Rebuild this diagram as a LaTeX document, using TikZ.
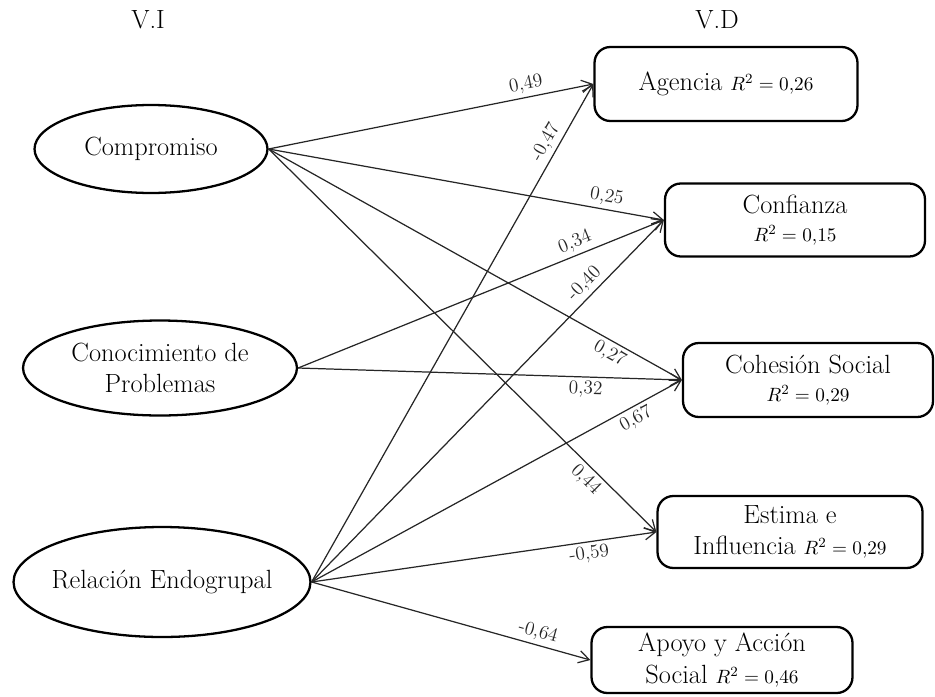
\documentclass[tikz,border=0pt]{standalone}
\usetikzlibrary{shapes.geometric,arrows.meta}
\newcommand\Rsq[1]{{\fontsize{11}{13}\selectfont$R^{2}=#1$}}
\begin{document}
\begin{tikzpicture}[x=0.02cm,y=-0.02cm,
  lat/.style={draw, ellipse, line width=1.3pt, inner sep=0pt, font=\fontsize{15}{18}\selectfont, align=center},
  dep/.style={draw, rounded corners=9pt, line width=1.3pt, inner sep=2pt, font=\fontsize{15}{18}\selectfont, align=center},
  pth/.style={-{Straight Barb[length=6pt,width=7pt]}, line width=0.7pt, black!85},
  coef/.style={font=\fontsize{11}{12}\selectfont, sloped, inner sep=2pt},
  head/.style={font=\fontsize{15}{18}\selectfont}]
\useasboundingbox (0,0) rectangle (935,696);

\node[head] (vi) at (148,20) {V.I};
\node[head] (vd) at (717,20) {V.D};

\node[lat, minimum width=4.66cm, minimum height=1.76cm] (comp) at (151,149) {Compromiso};
\node[lat, minimum width=5.48cm, minimum height=1.9cm] (cono) at (160,368) {Conocimiento de\\Problemas};
\node[lat, inner xsep=-4.5pt, minimum width=5.94cm, minimum height=2.2cm] (rel) at (162,582) {Relación Endogrupal};

\node[dep, minimum width=5.26cm, minimum height=1.48cm] (agen) at (726,84) {Agencia \Rsq{0{,}26}};
\node[dep, minimum width=5.2cm, minimum height=1.46cm] (conf) at (795,220) {Confianza\\[-2pt]\Rsq{0{,}15}};
\node[dep, minimum width=5.0cm, minimum height=1.48cm] (cohe) at (808,380) {Cohesión Social\\[-2pt]\Rsq{0{,}29}};
\node[dep, minimum width=5.3cm, minimum height=1.44cm] (esti) at (790,532) {Estima e\\Influencia \Rsq{0{,}29}};
\node[dep, minimum width=5.22cm, minimum height=1.32cm] (apoy) at (722,660) {Apoyo y Acción\\Social \Rsq{0{,}46}};

\draw[pth] (comp.east) -- node[coef, pos=0.8, above] {0,49} (agen.west);
\draw[pth] (comp.east) -- node[coef, pos=0.85, above] {0,25} (conf.west);
\draw[pth] (comp.east) -- node[coef, pos=0.84, below] {0,27} (cohe.west);
\draw[pth] (comp.east) -- node[coef, pos=0.84, below] {0,44} (esti.west);

\draw[pth] (cono.east) -- node[coef, pos=0.77, above] {0,34} (conf.west);
\draw[pth] (cono.east) -- node[coef, pos=0.75, below] {0,32} (cohe.west);

\draw[pth] (rel.east) -- node[coef, pos=0.87, above] {-0,47} (agen.west);
\draw[pth] (rel.east) -- node[coef, pos=0.8, above] {-0,40} (conf.west);
\draw[pth] (rel.east) -- node[coef, pos=0.86, below] {0,67} (cohe.west);
\draw[pth] (rel.east) -- node[coef, pos=0.8, below] {-0,59} (esti.west);
\draw[pth] (rel.east) -- node[coef, pos=0.8, above] {-0,64} (apoy.west);
\end{tikzpicture}
\end{document}
